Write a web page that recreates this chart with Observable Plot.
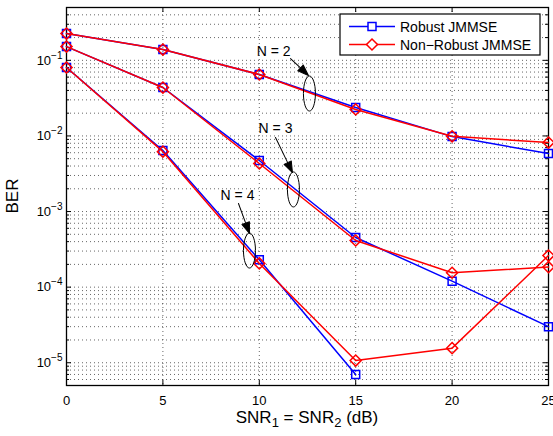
<!DOCTYPE html>
<html><head><meta charset="utf-8">
<script src="https://cdn.jsdelivr.net/npm/d3@7"></script>
<script src="https://cdn.jsdelivr.net/npm/@observablehq/plot@0.6"></script>
<style>
body{margin:0;background:#fff;}
#chart svg{font-family:"Liberation Sans",Arial,Helvetica,sans-serif;}
</style>
</head><body><div id="chart"></div>
<script>
// ---------- data ----------
const snr = [0, 5, 10, 15, 20, 25];
const robustN2    = [0.226, 0.139, 0.065, 0.0238, 0.0098, 0.00586];
const nonRobustN2 = [0.226, 0.139, 0.065, 0.0224, 0.0099, 0.00818];
const robustN3    = [0.152, 0.0437, 0.00473, 4.54e-4, 1.2e-4, 3.0e-5];
const nonRobustN3 = [0.152, 0.0437, 0.00432, 4.14e-4, 1.55e-4, 1.84e-4];
const robustN4    = [0.0804, 0.0064, 2.3e-4, 7.0e-6, null, null];
const nonRobustN4 = [0.0804, 0.0062, 2.06e-4, 1.07e-5, 1.56e-5, 2.62e-4];

const xTicks = [0, 5, 10, 15, 20, 25];
const yDecades = [1e-5, 1e-4, 1e-3, 1e-2, 1e-1];
const yDomain = [5e-6, 0.5];

const legendLabels = ["Robust JMMSE", "Non\u2212Robust JMMSE"];

const annLabels = ["N = 2", "N = 3", "N = 4"];
const annTextX = [10.74, 10.84, 8.87];
const annTextY = [0.132, 0.01254, 0.00163];
const arrowFromX = [11.62, 10.84, 8.92];
const arrowFromY = [0.1057, 0.00953, 0.001277];
const arrowToX = [12.55, 11.72, 9.49];
const arrowToY = [0.063, 0.00328, 5.13e-4];
const ellipseX = [12.60, 11.77, 9.49];
const ellipseY = [0.0364, 0.00196, 3.05e-4];

// ---------- derived tables ----------
const W = 553, H = 436, mL = 66, mR = 5, mT = 7, mB = 51;
const plotW = W - mL - mR, plotH = H - mT - mB;

function toRows(vals, key) {
  return snr.map((x, i) => ({snr: x, ber: vals[i], key})).filter(d => d.ber != null);
}
const robustRows = [...toRows(robustN2, "N2"), ...toRows(robustN3, "N3"), ...toRows(robustN4, "N4")];
const nonRobustRows = [...toRows(nonRobustN2, "N2"), ...toRows(nonRobustN3, "N3"), ...toRows(nonRobustN4, "N4")];

// minor log ticks/grid
const yMinor = [];
for (let e = -6; e <= -1; e++) for (let m = 2; m <= 9; m++) {
  const v = m * Math.pow(10, e);
  if (v >= yDomain[0] * 0.999 && v <= yDomain[1] * 1.001) yMinor.push(+v.toPrecision(3));
}
const yGrid = [...yDecades, ...yMinor].filter(v => v < yDomain[1] * 0.999 && v > yDomain[0] * 1.001);
const xGrid = xTicks.filter(v => v > 0 && v < 25);

const annRows = annLabels.map((t, i) => ({t, x: annTextX[i], y: annTextY[i],
  x1: arrowFromX[i], y1: arrowFromY[i], x2: arrowToX[i], y2: arrowToY[i], ex: ellipseX[i], ey: ellipseY[i]}));

// scales to compute arrow direction in pixels
const sx = Plot.scale({x: {domain: [0, 25], range: [mL, W - mR]}});
const sy = Plot.scale({y: {type: "log", domain: yDomain, range: [H - mB, mT]}});
annRows.forEach(d => {
  const dx = sx.apply(d.x2) - sx.apply(d.x1);
  const dy = sy.apply(d.y2) - sy.apply(d.y1);
  d.len = Math.hypot(dx, dy);
  d.rot = Math.atan2(dx, -dy) * 180 / Math.PI;
});

const ellipseSymbol = {
  draw(ctx) {
    const rx = 6, ry = 17.5, k = 0.5523;
    ctx.moveTo(rx, 0);
    ctx.bezierCurveTo(rx, ry * k, rx * k, ry, 0, ry);
    ctx.bezierCurveTo(-rx * k, ry, -rx, ry * k, -rx, 0);
    ctx.bezierCurveTo(-rx, -ry * k, -rx * k, -ry, 0, -ry);
    ctx.bezierCurveTo(rx * k, -ry, rx, -ry * k, rx, 0);
    ctx.closePath();
  }
};
const arrowShape = {
  draw(ctx, l) {
    const hl = Math.min(11, l * 0.45), hw = 4;
    ctx.moveTo(0, 0);
    ctx.lineTo(0, -l + hl);
    ctx.moveTo(0, -l);
    ctx.lineTo(-hw, -l + hl);
    ctx.lineTo(hw, -l + hl);
    ctx.closePath();
  }
};

const blue = "#0000ff", red = "#ff0000";
const majorTick = 5, minorTick = 3;

const chart = Plot.plot({
  width: W, height: H,
  marginLeft: mL, marginRight: mR, marginTop: mT, marginBottom: mB,
  style: {fontFamily: "Liberation Sans, Arial, Helvetica, sans-serif", fontSize: "13px", background: "#fff", color: "#000"},
  x: {domain: [0, 25]},
  y: {type: "log", domain: yDomain},
  marks: [
    Plot.ruleY(yGrid, {stroke: "#000", strokeOpacity: 0.6, strokeDasharray: "1,3"}),
    Plot.ruleX(xGrid, {stroke: "#000", strokeOpacity: 0.6, strokeDasharray: "1,3"}),
    // inward ticks on all four sides
    Plot.tickY(yDecades, {stroke: "#000", insetRight: plotW - majorTick}),
    Plot.tickY(yDecades, {stroke: "#000", insetLeft: plotW - majorTick}),
    Plot.tickY(yMinor, {stroke: "#000", insetRight: plotW - minorTick}),
    Plot.tickY(yMinor, {stroke: "#000", insetLeft: plotW - minorTick}),
    Plot.tickX(xGrid, {stroke: "#000", insetTop: plotH - majorTick}),
    Plot.tickX(xGrid, {stroke: "#000", insetBottom: plotH - majorTick}),
    Plot.axisX({ticks: xTicks, tickSize: 0, tickPadding: 10, label: null, fontSize: 13, tickFormat: d => String(d)}),
    Plot.axisY({ticks: yDecades, tickSize: 0, tickPadding: 4, label: null, fontSize: 13,
      tickFormat: d => "10^" + Math.round(Math.log10(d))}),
    Plot.frame({stroke: "#000", strokeWidth: 1.3}),
    // robust (blue squares)
    Plot.line(robustRows, {x: "snr", y: "ber", z: "key", stroke: blue, strokeWidth: 1.5}),
    Plot.dot(robustRows, {x: "snr", y: "ber", symbol: "square", r: 4.5, stroke: blue, strokeWidth: 1.5, fill: "none"}),
    // non-robust (red diamonds)
    Plot.line(nonRobustRows, {x: "snr", y: "ber", z: "key", stroke: red, strokeWidth: 1.5}),
    Plot.dot(nonRobustRows, {x: "snr", y: "ber", symbol: "diamond2", r: 5, stroke: red, strokeWidth: 1.5, fill: "none"}),
    // annotations
    Plot.dot(annRows, {x: "ex", y: "ey", symbol: ellipseSymbol, r: 5, stroke: "#000", strokeWidth: 1, fill: "none"}),
    ...annRows.map(d => Plot.vector([d], {x: "x1", y: "y1", length: d.len, rotate: d.rot, anchor: "start",
      shape: arrowShape, stroke: "#000", fill: "#000", strokeWidth: 1})),
    Plot.text(annRows, {x: "x", y: "y", text: "t", fontSize: 14, fill: "#000"})
  ]
});

document.getElementById("chart").appendChild(chart);
const svg = d3.select(chart.tagName.toLowerCase() === "svg" ? chart : chart.querySelector("svg"));

// superscript exponents on the y tick labels
svg.selectAll('g[aria-label="y-axis tick label"] text').each(function () {
  const t = this.textContent;
  const e = t.split("^")[1];
  const s = d3.select(this);
  s.text("10");
  s.append("tspan").attr("dy", -6).attr("font-size", 10).text(e.replace("-", "\u2212"));
});

// axis titles
const xl = svg.append("text").attr("x", (mL + W - mR) / 2).attr("y", 423)
  .attr("text-anchor", "middle").attr("font-size", 17).attr("fill", "#000");
xl.append("tspan").text("SNR");
xl.append("tspan").attr("dy", 4).attr("font-size", 13).text("1");
xl.append("tspan").attr("dy", -4).text(" = SNR");
xl.append("tspan").attr("dy", 4).attr("font-size", 13).text("2");
xl.append("tspan").attr("dy", -4).text(" (dB)");

svg.append("text").attr("transform", `translate(18,${(mT + H - mB) / 2}) rotate(-90)`)
  .attr("text-anchor", "middle").attr("font-size", 17).attr("fill", "#000").text("BER");

// legend box (inside the axes, top-right)
const lg = svg.append("g").attr("text-anchor", "start");
lg.append("rect").attr("x", 340).attr("y", 14).attr("width", 200).attr("height", 41)
  .attr("fill", "#fff").attr("stroke", "#000").attr("stroke-width", 1.2);
const legendColors = [blue, red];
const legendSymbols = [d3.symbolSquare, d3.symbolDiamond2];
const legendSizes = [64, 77];
legendLabels.forEach((lab, i) => {
  const yy = 26.5 + i * 18;
  lg.append("line").attr("x1", 349).attr("x2", 395).attr("y1", yy).attr("y2", yy)
    .attr("stroke", legendColors[i]).attr("stroke-width", 1.5);
  lg.append("path").attr("d", d3.symbol(legendSymbols[i], legendSizes[i])())
    .attr("transform", `translate(372,${yy})`).attr("fill", "#fff")
    .attr("stroke", legendColors[i]).attr("stroke-width", 1.5);
  lg.append("text").attr("x", 400).attr("y", yy).attr("dy", "0.36em").attr("font-size", 14)
    .attr("text-anchor", "start").attr("fill", "#000").text(lab);
});
</script>
</body></html>
